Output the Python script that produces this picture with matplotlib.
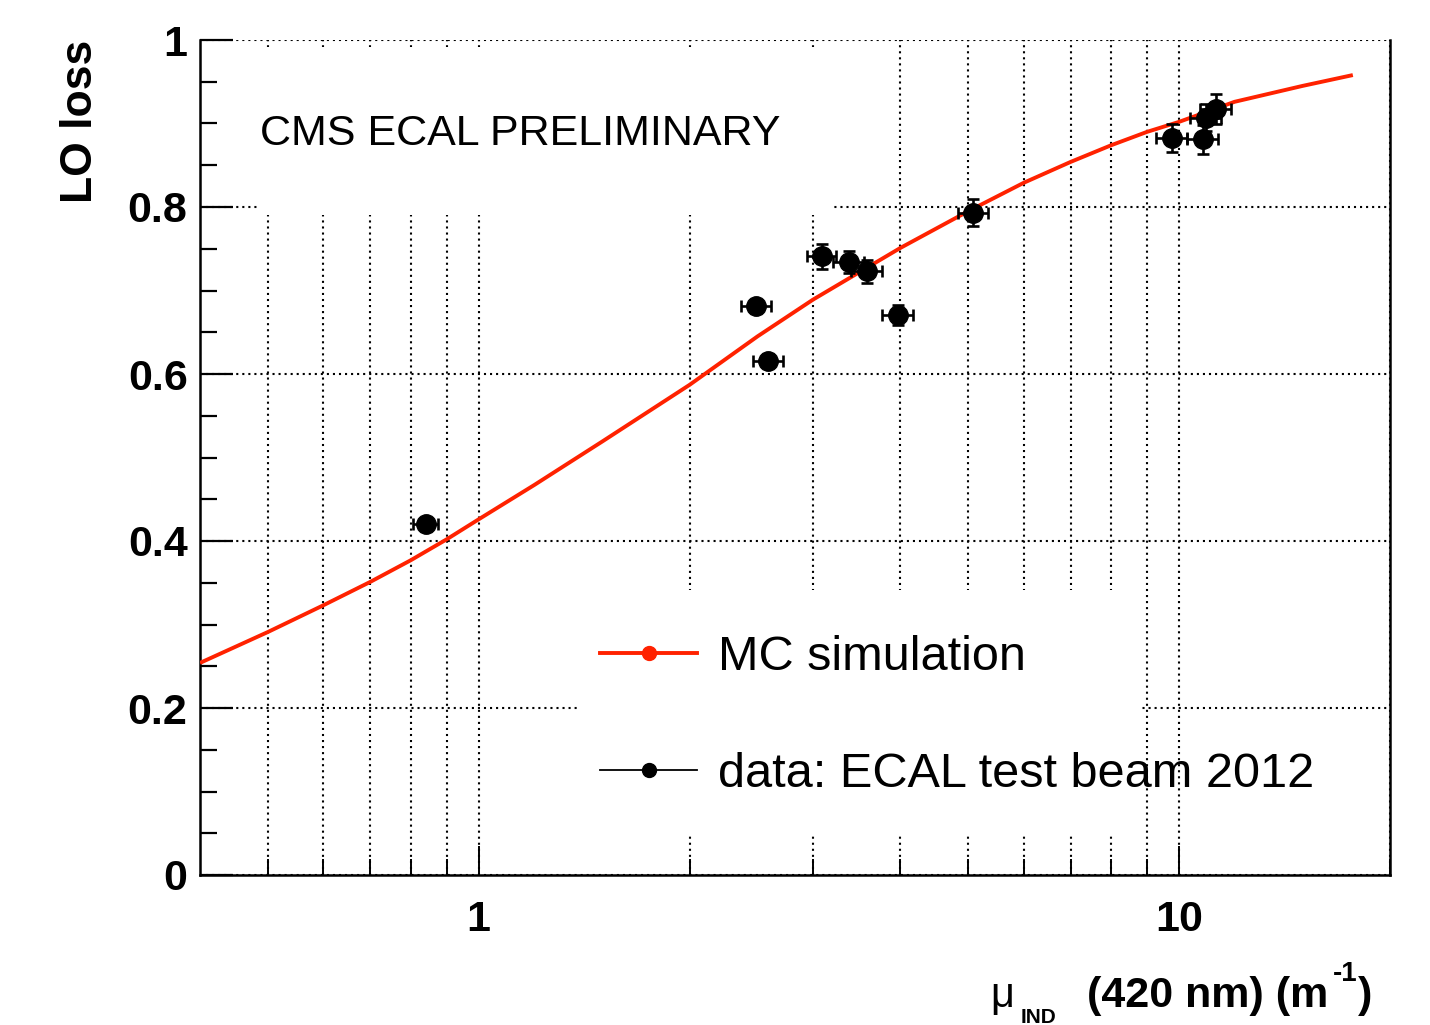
import numpy as np
import matplotlib
matplotlib.use('Agg')
import matplotlib.pyplot as plt
from matplotlib.patches import Rectangle
from matplotlib.lines import Line2D
from matplotlib.ticker import FixedLocator, FixedFormatter, NullFormatter

# ---- data ----
mc_x = [0.4, 0.5, 0.6, 0.7, 0.8, 0.9, 1.0, 1.2, 1.5, 2.0, 2.5, 3.0, 4.0, 5.0, 6.0, 7.0, 8.0, 9.0, 10.0, 12.0, 15.0, 17.7]
mc_y = [0.254, 0.291, 0.323, 0.351, 0.377, 0.402, 0.426, 0.467, 0.519, 0.587, 0.645, 0.689, 0.751, 0.795, 0.829, 0.854, 0.874, 0.890, 0.902, 0.926, 0.945, 0.958]

data_x = [0.84, 2.49, 2.59, 3.09, 3.38, 3.58, 3.97, 5.08, 9.77, 10.82, 10.92, 11.29]
data_y = [0.420, 0.681, 0.616, 0.741, 0.734, 0.723, 0.671, 0.793, 0.883, 0.881, 0.907, 0.917]
data_xerr = [0.035, 0.12, 0.13, 0.15, 0.17, 0.18, 0.20, 0.25, 0.50, 0.55, 0.55, 0.57]
data_yerr = [0.008, 0.008, 0.008, 0.015, 0.013, 0.014, 0.012, 0.016, 0.017, 0.017, 0.016, 0.018]

ytick_vals = [0, 0.2, 0.4, 0.6, 0.8, 1.0]
ytick_labels = ['0', '0.2', '0.4', '0.6', '0.8', '1']
xtick_vals = [1, 10]
xtick_labels = ['1', '10']
xminor_vals = [0.5, 0.6, 0.7, 0.8, 0.9, 2, 3, 4, 5, 6, 7, 8, 9, 20]

mc_label = 'MC simulation'
data_label = 'data: ECAL test beam 2012'

W, H = 1430, 1025
RED = '#ff2200'
FONT = 'Liberation Sans'

plt.rcParams['font.family'] = [FONT, 'DejaVu Sans']

fig = plt.figure(figsize=(W / 100, H / 100), dpi=100)
fig.patch.set_facecolor('white')

def fx(px):
    return px / W

def fy(py):
    return 1 - py / H

ax = fig.add_axes([fx(200), fy(875), (1390 - 200) / W, (875 - 40) / H])
ax.set_xscale('log')
ax.set_xlim(0.4, 20)
ax.set_ylim(0, 1)
ax.set_axisbelow(True)

# ticks
ax.xaxis.set_major_locator(FixedLocator(xtick_vals))
ax.xaxis.set_major_formatter(FixedFormatter(xtick_labels))
ax.xaxis.set_minor_locator(FixedLocator(xminor_vals))
ax.xaxis.set_minor_formatter(NullFormatter())
ax.yaxis.set_major_locator(FixedLocator(ytick_vals))
ax.yaxis.set_major_formatter(FixedFormatter(ytick_labels))
ax.yaxis.set_minor_locator(FixedLocator(list(np.arange(0.05, 1.0, 0.05))))

ax.tick_params(axis='y', which='major', direction='in', length=24, width=1.6,
               left=True, right=False, pad=9)
ax.tick_params(axis='y', which='minor', direction='in', length=12, width=1.6,
               left=True, right=False)
ax.tick_params(axis='x', which='major', direction='in', length=21, width=1.4,
               bottom=True, top=False, pad=18)
ax.tick_params(axis='x', which='minor', direction='in', length=11.5, width=1.4,
               bottom=True, top=False)
for lab in ax.get_xticklabels() + ax.get_yticklabels():
    lab.set_fontsize(31)
    lab.set_fontweight('bold')
    lab.set_fontfamily(FONT)

for s in ['left', 'bottom', 'right']:
    ax.spines[s].set_linewidth(1.8)
ax.spines['top'].set_visible(False)

grid_kw = dict(color='black', linestyle=(0, (1, 1.9)), linewidth=1.5)
ax.grid(True, axis='x', which='both', **grid_kw)
ax.grid(True, axis='y', which='major', **grid_kw)

# white boxes hiding grid behind text and legend
ax.add_patch(Rectangle((fx(258), fy(215)), (833 - 258) / W, (215 - 47) / H,
                       transform=fig.transFigure, facecolor='white',
                       edgecolor='none', zorder=1))
ax.add_patch(Rectangle((fx(580), fy(833)), (1140 - 580) / W, (833 - 590) / H,
                       transform=fig.transFigure, facecolor='white',
                       edgecolor='none', zorder=1))

# MC curve
ax.plot(mc_x, mc_y, color=RED, linewidth=2.8, zorder=3, solid_capstyle='butt',
        solid_joinstyle='round')

# data
ax.errorbar(data_x, data_y, xerr=data_xerr, yerr=data_yerr, fmt='o',
            color='black', markersize=14, elinewidth=1.9, capsize=4.5,
            capthick=1.9, zorder=4)

# legend
handles = [
    Line2D([], [], color=RED, linewidth=2.8, marker='o', markersize=10),
    Line2D([], [], color='black', linewidth=1.3, marker='o', markersize=10),
]
leg = ax.legend(handles, [mc_label, data_label], loc='center left',
                bbox_to_anchor=(fx(600), fy(716)), bbox_transform=fig.transFigure,
                frameon=False, borderpad=0, borderaxespad=0,
                handlelength=2.0, handletextpad=0.43, labelspacing=1.5,
                prop={'family': FONT, 'size': 35})

# texts
fig.text(fx(260), fy(145), 'CMS ECAL PRELIMINARY', fontsize=31,
         family=FONT, ha='left', va='baseline')

fig.text(fx(81), fy(40), 'LO loss', rotation=90, fontsize=32,
         fontweight='bold', family=FONT, ha='center', va='top')

# x axis title pieces
fig.text(fx(990), fy(1007), 'μ', fontsize=30, family=FONT, ha='left', va='baseline')
fig.text(fx(1021), fy(1023), 'IND', fontsize=15, fontweight='bold', family=FONT,
         ha='left', va='baseline')
fig.text(fx(1087), fy(1007), '(420 nm) (m', fontsize=31, fontweight='bold',
         family=FONT, ha='left', va='baseline')
fig.text(fx(1333), fy(981), '-1', fontsize=20, fontweight='bold', family=FONT,
         ha='left', va='baseline')
fig.text(fx(1358), fy(1007), ')', fontsize=31, fontweight='bold', family=FONT,
         ha='left', va='baseline')

fig.savefig('out.png', dpi=100, facecolor='white')
